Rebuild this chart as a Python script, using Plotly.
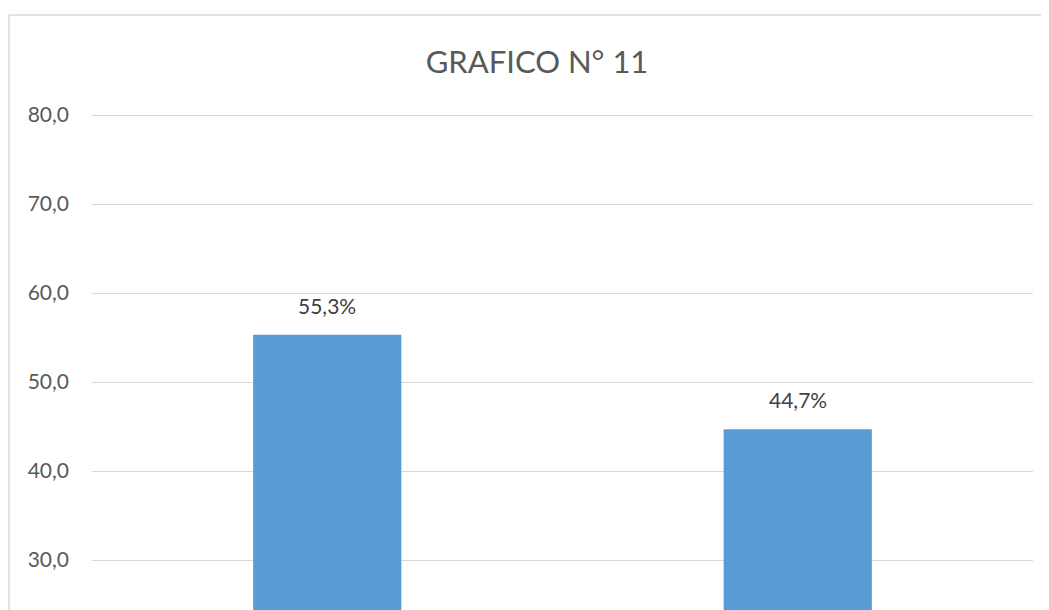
import plotly.graph_objects as go

categories = ["A", "B"]
values = [55.3, 44.7]
title_text = "GRAFICO N° 11"

# page body has an 8px offset; figure coords = image coords - 8
OFF = 8
PAD = 4  # extra headroom so the top gridline is drawn
PX_PER_UNIT = 8.9
W, H = 1049 - OFF, 610 - OFF
ml, mr, mt, mb = 92 - OFF, W - (1033 - OFF), 115 - OFF - PAD, 0

fig = go.Figure()
fig.add_trace(go.Bar(
    x=categories, y=values,
    marker=dict(color="#5b9bd5", line=dict(width=0)),
    hoverinfo="skip",
))

for c, v in zip(categories, values):
    fig.add_annotation(
        x=c, y=v, xref="x", yref="y",
        text=f"{v:.1f}%".replace(".", ","),
        showarrow=False, yanchor="bottom", yshift=15,
        font=dict(family="Lato, Open Sans, sans-serif", size=21, color="#404040"),
    )

ph = H - mt - mb
pw = W - ml - mr
bx = (9 - OFF - ml) / pw
by = (H - (15 - OFF)) / ph
border = dict(color="#d9d9d9", width=1.5)
fig.add_shape(type="line", xref="paper", yref="paper", x0=bx, x1=bx, y0=-0.3, y1=by,
              line=border, layer="below")
fig.add_shape(type="line", xref="paper", yref="paper", x0=bx, x1=(W + 40 - ml) / pw, y0=by, y1=by,
              line=border, layer="below")

fig.update_layout(
    width=W, height=H,
    margin=dict(l=ml, r=mr, t=mt, b=mb),
    paper_bgcolor="white", plot_bgcolor="white",
    separators=",.",
    bargap=0.685,
    showlegend=False,
    title=dict(
        text=title_text, x=(537 - OFF) / W, xref="container", xanchor="center",
        y=1 - (62 - OFF) / H, yref="container", yanchor="middle",
        font=dict(family="Lato, Open Sans, sans-serif", size=31, color="#595959"),
    ),
    xaxis=dict(showticklabels=False, showgrid=False, zeroline=False, showline=False, ticks=""),
    yaxis=dict(
        range=[80 - (ph - PAD) / PX_PER_UNIT, 80 + PAD / PX_PER_UNIT], dtick=10, tick0=0, tickformat=".1f",
        showgrid=True, gridcolor="#d9d9d9", gridwidth=1,
        zeroline=False, showline=False, ticks="",
        ticklabelstandoff=22,
        tickfont=dict(family="Lato, Open Sans, sans-serif", size=21, color="#595959"),
    ),
)

fig.write_html("out.html")
